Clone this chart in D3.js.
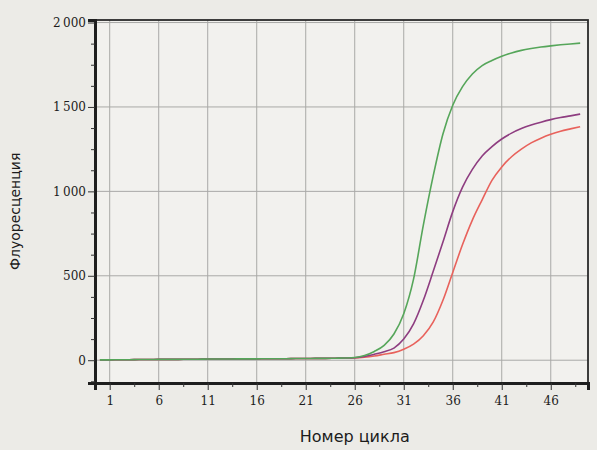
<!DOCTYPE html>
<html>
<head>
<meta charset="utf-8">
<script src="https://cdn.jsdelivr.net/npm/d3@7"></script>
<style>
  body { margin: 0; background: #ecebe7; }
  svg { display: block; }
</style>
</head>
<body>
<div id="chart"></div>
<script>
// cycles 0..49
const cycles = d3.range(0, 50);

const green = [2, 2, 3, 3, 4, 4, 5, 5, 5, 6, 6, 7, 7, 7, 8, 8, 8, 9, 9, 9, 10,
  10, 11, 11, 12, 13, 16, 28, 52, 88, 155, 275, 480, 800, 1090, 1340, 1510,
  1620, 1695, 1745, 1775, 1800, 1820, 1835, 1846, 1855, 1862, 1868, 1873, 1878];

const purple = [2, 2, 3, 3, 4, 4, 5, 5, 5, 6, 6, 7, 7, 7, 8, 8, 8, 9, 9, 9, 10,
  10, 11, 11, 12, 13, 15, 22, 35, 50, 72, 125, 215, 355, 525, 700, 880,
  1025, 1130, 1210, 1265, 1310, 1345, 1372, 1393, 1410, 1425, 1437, 1447, 1458];

const red = [2, 2, 3, 3, 4, 4, 5, 5, 5, 6, 6, 7, 7, 7, 8, 8, 8, 9, 9, 9, 10,
  10, 11, 11, 12, 13, 14, 18, 25, 35, 45, 65, 95, 145, 225, 355, 520,
  685, 830, 950, 1065, 1145, 1205, 1250, 1287, 1315, 1338, 1356, 1370, 1383];

const series = [
  { name: 'red', color: '#e8625c', values: red },
  { name: 'purple', color: '#8e3d80', values: purple },
  { name: 'green', color: '#56a65a', values: green }
];

const xTicks = [1, 6, 11, 16, 21, 26, 31, 36, 41, 46];
const xMinor = [3.5, 8.5, 13.5, 18.5, 23.5, 28.5, 33.5, 38.5, 43.5, 48.5];
const yTicks = [0, 500, 1000, 1500, 2000];
const yMinor = [-125, 125, 250, 375, 625, 750, 875, 1125, 1250, 1375, 1625, 1750, 1875];

const W = 597, H = 450;
const m = { left: 95, right: 9, top: 20, bottom: 67 };

const svg = d3.select('#chart').append('svg')
    .attr('width', W)
    .attr('height', H);

const x = d3.scaleLinear()
    .domain([-0.5, 49.8])
    .range([m.left, W - m.right]);

const y = d3.scaleLinear()
    .domain([-135, 2015])
    .range([H - m.bottom, m.top]);

const fmt = d => d3.format(',')(d).replace(/,/g, '\u2009');

// plot background
svg.append('rect')
    .attr('x', m.left)
    .attr('y', m.top)
    .attr('width', W - m.left - m.right)
    .attr('height', H - m.top - m.bottom)
    .attr('fill', '#f2f1ee');

// grid
svg.append('g')
    .selectAll('line')
    .data(xTicks)
    .join('line')
        .attr('x1', d => x(d)).attr('x2', d => x(d))
        .attr('y1', m.top).attr('y2', H - m.bottom)
        .attr('stroke', '#a9a9a7')
        .attr('stroke-width', 1);

svg.append('g')
    .selectAll('line')
    .data(yTicks)
    .join('line')
        .attr('x1', m.left).attr('x2', W - m.right)
        .attr('y1', d => y(d)).attr('y2', d => y(d))
        .attr('stroke', '#a9a9a7')
        .attr('stroke-width', 1);

// curves
const line = d3.line()
    .x((d, i) => x(Math.max(cycles[i], -0.4)))
    .y(d => y(d))
    .curve(d3.curveMonotoneX);

svg.append('g')
    .selectAll('path')
    .data(series)
    .join('path')
        .attr('d', d => line(d.values))
        .attr('fill', 'none')
        .attr('stroke', d => d.color)
        .attr('stroke-width', 1.6);

// frame
svg.append('rect')
    .attr('x', m.left)
    .attr('y', m.top)
    .attr('width', W - m.left - m.right)
    .attr('height', H - m.top - m.bottom)
    .attr('fill', 'none')
    .attr('stroke', '#2a2a2a')
    .attr('stroke-width', 1.8);

// axes
const xAxis = svg.append('g')
    .attr('transform', `translate(0,${H - m.bottom})`)
    .call(d3.axisBottom(x).tickValues(xTicks).tickSize(7).tickPadding(6));
xAxis.select('.domain').attr('stroke', '#1e1e1e').attr('stroke-width', 3);

const xMinorAxis = svg.append('g')
    .attr('transform', `translate(0,${H - m.bottom})`)
    .call(d3.axisBottom(x).tickValues(xMinor).tickSize(4).tickFormat(''));
xMinorAxis.select('.domain').remove();

const yAxis = svg.append('g')
    .attr('transform', `translate(${m.left},0)`)
    .call(d3.axisLeft(y).tickValues(yTicks).tickSize(7).tickPadding(2).tickFormat(fmt));
yAxis.select('.domain').attr('stroke', '#1e1e1e').attr('stroke-width', 3);

const yMinorAxis = svg.append('g')
    .attr('transform', `translate(${m.left},0)`)
    .call(d3.axisLeft(y).tickValues(yMinor).tickSize(4).tickFormat(''));
yMinorAxis.select('.domain').remove();

svg.selectAll('.tick line').attr('stroke', '#333');
svg.selectAll('.tick text')
    .attr('fill', '#1c1c1c')
    .style('font-family', '"DejaVu Serif", serif')
    .style('font-size', '12px');

// axis titles
svg.append('text')
    .attr('x', x(26))
    .attr('y', 442)
    .attr('text-anchor', 'middle')
    .attr('fill', '#1c1c1c')
    .style('font-family', '"DejaVu Sans", sans-serif')
    .style('font-size', '16px')
    .text('Номер цикла');

svg.append('text')
    .attr('transform', `translate(20,${y(1000) + 20}) rotate(-90)`)
    .attr('text-anchor', 'middle')
    .attr('fill', '#1c1c1c')
    .style('font-family', '"DejaVu Sans", sans-serif')
    .style('font-size', '14px')
    .text('Флуоресценция');
</script>
</body>
</html>
